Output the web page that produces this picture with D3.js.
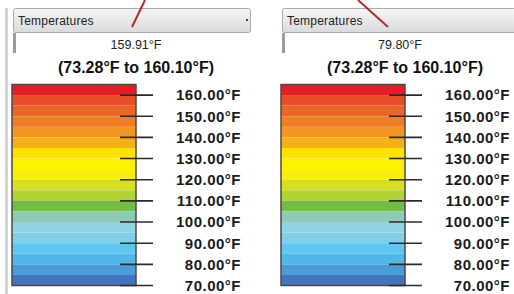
<!DOCTYPE html>
<meta charset="utf-8">
<style>
body { margin: 0; background: #fff; }
svg { display: block; }
.hdr-text { font: 12px "Liberation Sans", sans-serif; fill: #222; letter-spacing: 0.2px; }
.readout { font: 12.5px "Liberation Sans", sans-serif; fill: #222; }
.range { font: bold 16px "Liberation Sans", sans-serif; fill: #111; }
.tick-label { font: bold 15px "Liberation Sans", sans-serif; fill: #1a1a1a; letter-spacing: 0.5px; }
</style>
<body>
<svg width="514" height="294"></svg>
<script src="https://cdn.jsdelivr.net/npm/d3@7"></script>
<script>

// data
var bandLows = [160, 155, 150, 145, 140, 135, 130, 125, 120, 115, 110, 105, 100, 95, 90, 85, 80, 75, 70];
var bandColors = ["#e41e26", "#e94f27", "#ec6526", "#ef7e23", "#f29620", "#f6ae19", "#fde400",
                  "#fff200", "#f9ed0a", "#d7df21", "#b3d234", "#72bd44", "#8dcbb7", "#92d3e3",
                  "#80cee9", "#5fc6ef", "#51b6e8", "#4b9cd6", "#4175bf"];
var tickValues = [160, 150, 140, 130, 120, 110, 100, 90, 80, 70];
var readouts = ["159.91°F", "79.80°F"];
var rangeMin = 73.28, rangeMax = 160.10;
var bandStep = 5;

var svg = d3.select("svg");

var y = d3.scaleLinear().domain([70, 165]).range([285.5, 84.5]);
var fmt = d3.format(".2f");

var panelX = [0, 269];
var bar = {x: 12, w: 124};

// left outer frame line
svg.append("rect")
    .attr("x", 5).attr("y", 8).attr("width", 3).attr("height", 286)
    .attr("fill", "#cfd2d6");

var grad = svg.append("defs").append("linearGradient")
    .attr("id", "hdr").attr("x1", 0).attr("y1", 0).attr("x2", 0).attr("y2", 1);
grad.append("stop").attr("offset", "0%").attr("stop-color", "#f6f6f6");
grad.append("stop").attr("offset", "100%").attr("stop-color", "#d9dadc");

panelX.forEach(function(px, i) {
  var g = svg.append("g").attr("transform", "translate(" + px + ",0)");
  var hw = i === 0 ? 237 : 250;

  // dropdown header
  g.append("rect")
      .attr("x", 13.5).attr("y", 8.5).attr("width", hw).attr("height", 24)
      .attr("rx", 2)
      .attr("fill", "url(#hdr)").attr("stroke", "#a9abae");
  g.append("text").attr("class", "hdr-text")
      .attr("x", 18).attr("y", 25)
      .text("Temperatures");
  if (i === 0) {
    g.append("rect").attr("x", 246).attr("y", 19).attr("width", 2).attr("height", 2).attr("fill", "#444");
  }

  // readout box
  g.append("rect")
      .attr("x", 13).attr("y", 33).attr("width", 3).attr("height", 20)
      .attr("fill", "#9a9c9f");
  g.append("text").attr("class", "readout")
      .attr("x", i === 0 ? 136 : 131).attr("y", 49)
      .attr("text-anchor", "middle")
      .text(readouts[i]);

  g.append("text").attr("class", "range")
      .attr("x", 136).attr("y", 73)
      .attr("text-anchor", "middle")
      .text("(" + fmt(rangeMin) + "°F to " + fmt(rangeMax) + "°F)");

  // colour bands
  g.selectAll("rect.band")
      .data(bandLows)
      .enter().append("rect")
        .attr("class", "band")
        .attr("x", bar.x)
        .attr("width", bar.w)
        .attr("y", function(d) { return y(d + bandStep); })
        .attr("height", function(d) { return y(d) - y(d + bandStep); })
        .attr("fill", function(d, k) { return bandColors[k]; });

  g.append("rect")
      .attr("x", bar.x).attr("y", y(165))
      .attr("width", bar.w).attr("height", y(70) - y(165))
      .attr("fill", "none").attr("stroke", "#4a4a4a").attr("stroke-width", 1.5);

  // ticks
  g.selectAll("line.tick")
      .data(tickValues)
      .enter().append("line")
        .attr("class", "tick")
        .attr("x1", 120).attr("x2", 153)
        .attr("y1", function(d) { return y(d); })
        .attr("y2", function(d) { return y(d); })
        .attr("stroke", "#2b2b2b").attr("stroke-width", 1.6);

  g.selectAll("text.tick-label")
      .data(tickValues)
      .enter().append("text")
        .attr("class", "tick-label")
        .attr("x", 241)
        .attr("y", function(d) { return y(d); })
        .attr("dy", "0.36em")
        .attr("text-anchor", "end")
        .text(function(d) { return fmt(d) + "°F"; });
});

// red pointer lines
var pointers = [[145, 0, 132, 27], [358, 0, 388, 27]];
svg.selectAll("line.ptr")
    .data(pointers)
    .enter().append("line")
      .attr("class", "ptr")
      .attr("x1", function(d) { return d[0]; }).attr("y1", function(d) { return d[1]; })
      .attr("x2", function(d) { return d[2]; }).attr("y2", function(d) { return d[3]; })
      .attr("stroke", "#b8282f").attr("stroke-width", 2);

</script>
</body>
